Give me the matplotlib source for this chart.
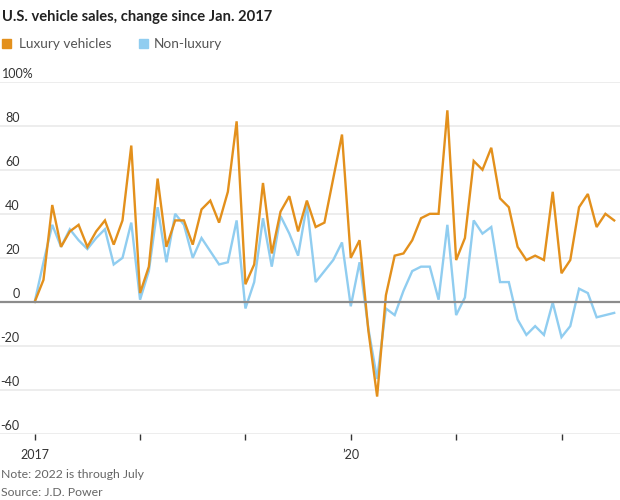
import numpy as np
import matplotlib
matplotlib.use("Agg")
import matplotlib.pyplot as plt

# monthly change since Jan. 2017, Jan 2017 .. Jul 2022
luxury = [0, 10, 44, 25, 32, 35, 25, 32, 37, 26, 37, 71,
          4, 16, 56, 25, 37, 37, 26, 42, 46, 36, 50, 82,
          8, 17, 54, 22, 41, 48, 32, 46, 34, 36, 56, 76,
          20, 28, -13, -43, 3, 21, 22, 28, 38, 40, 40, 87,
          19, 29, 64, 60, 70, 47, 43, 25, 19, 21, 19, 50,
          13, 19, 43, 49, 34, 40, 37]
nonluxury = [0, 18, 35, 25, 33, 28, 24, 29, 33, 17, 20, 36,
             1, 14, 43, 18, 40, 35, 20, 29, 23, 17, 18, 37,
             -3, 9, 38, 16, 39, 31, 21, 44, 9, 14, 19, 27,
             -2, 18, -12, -35, -3, -6, 5, 14, 16, 16, 1, 35,
             -6, 2, 37, 31, 34, 9, 9, -8, -15, -11, -15, -0.3,
             -16, -11, 6, 4, -7, -6, -5]
months = np.arange(len(luxury))
year_ticks = [0, 12, 24, 36, 48, 60]
year_labels = ["2017", "", "", "\u201920", "", ""]
y_ticks = [-60, -40, -20, 0, 20, 40, 60, 80, 100]

plt.rcParams['font.family'] = ['Lato', 'DejaVu Sans']

W, H = 620, 500
fig = plt.figure(figsize=(6.2, 5.0), dpi=100)
ax = fig.add_axes([0, 1 - 434 / H, 1, (434 - 81.7) / H])

orange = "#e3901c"
blue = "#90cdf0"

ax.set_xlim(-34.7 / 8.78, (620 - 34.7) / 8.78)
ax.set_ylim(-60, 100)

for v in y_ticks:
    if v == 0:
        continue
    ax.axhline(v, color="#ececec", lw=1.3, zorder=0)
ax.axhline(0, color="#8c8c8c", lw=1.6, zorder=3)

ax.plot(months, nonluxury, color=blue, lw=1.7, zorder=1, solid_joinstyle="miter")
ax.plot(months, luxury, color=orange, lw=1.7, zorder=2, solid_joinstyle="miter")

for s in ax.spines.values():
    s.set_visible(False)
ax.set_yticks([])
ax.set_xticks(year_ticks)
ax.set_xticklabels(year_labels)
ax.tick_params(axis="x", length=4, width=1, color="#333333", pad=7,
               labelsize=9, labelcolor="#333333")

# y labels sit above the gridlines, right aligned (100% starts at the edge)
for v in y_ticks:
    y = 1 - (434 - (v + 60) * 2.2) / H
    if v == 100:
        fig.text(1.5 / W, y + 2 / H, "100%", ha="left", va="bottom",
                 fontsize=9, color="#333333")
    else:
        fig.text(19.5 / W, y + 2 / H, str(v), ha="right", va="bottom",
                 fontsize=9, color="#333333")

fig.text(2 / W, 1 - 17 / H, "U.S. vehicle sales, change since Jan. 2017",
         fontsize=10.6, fontweight="bold", color="#222222", va="center")

fig.patches.append(plt.Rectangle((2 / W, 1 - 48 / H), 9 / W, 9 / H,
                                 transform=fig.transFigure, color=orange))
fig.text(19 / W, 1 - 44 / H, "Luxury vehicles", fontsize=9.8, color="#555555", va="center")
fig.patches.append(plt.Rectangle((139 / W, 1 - 48 / H), 9 / W, 9 / H,
                                 transform=fig.transFigure, color=blue))
fig.text(154 / W, 1 - 44 / H, "Non-luxury", fontsize=9.8, color="#555555", va="center")

fig.text(1 / W, 1 - 475 / H, "Note: 2022 is through July", fontsize=8.8,
         color="#666666", va="center")
fig.text(1 / W, 1 - 493 / H, "Source: J.D. Power", fontsize=8.8,
         color="#666666", va="center")

fig.savefig("out.png", dpi=100)
